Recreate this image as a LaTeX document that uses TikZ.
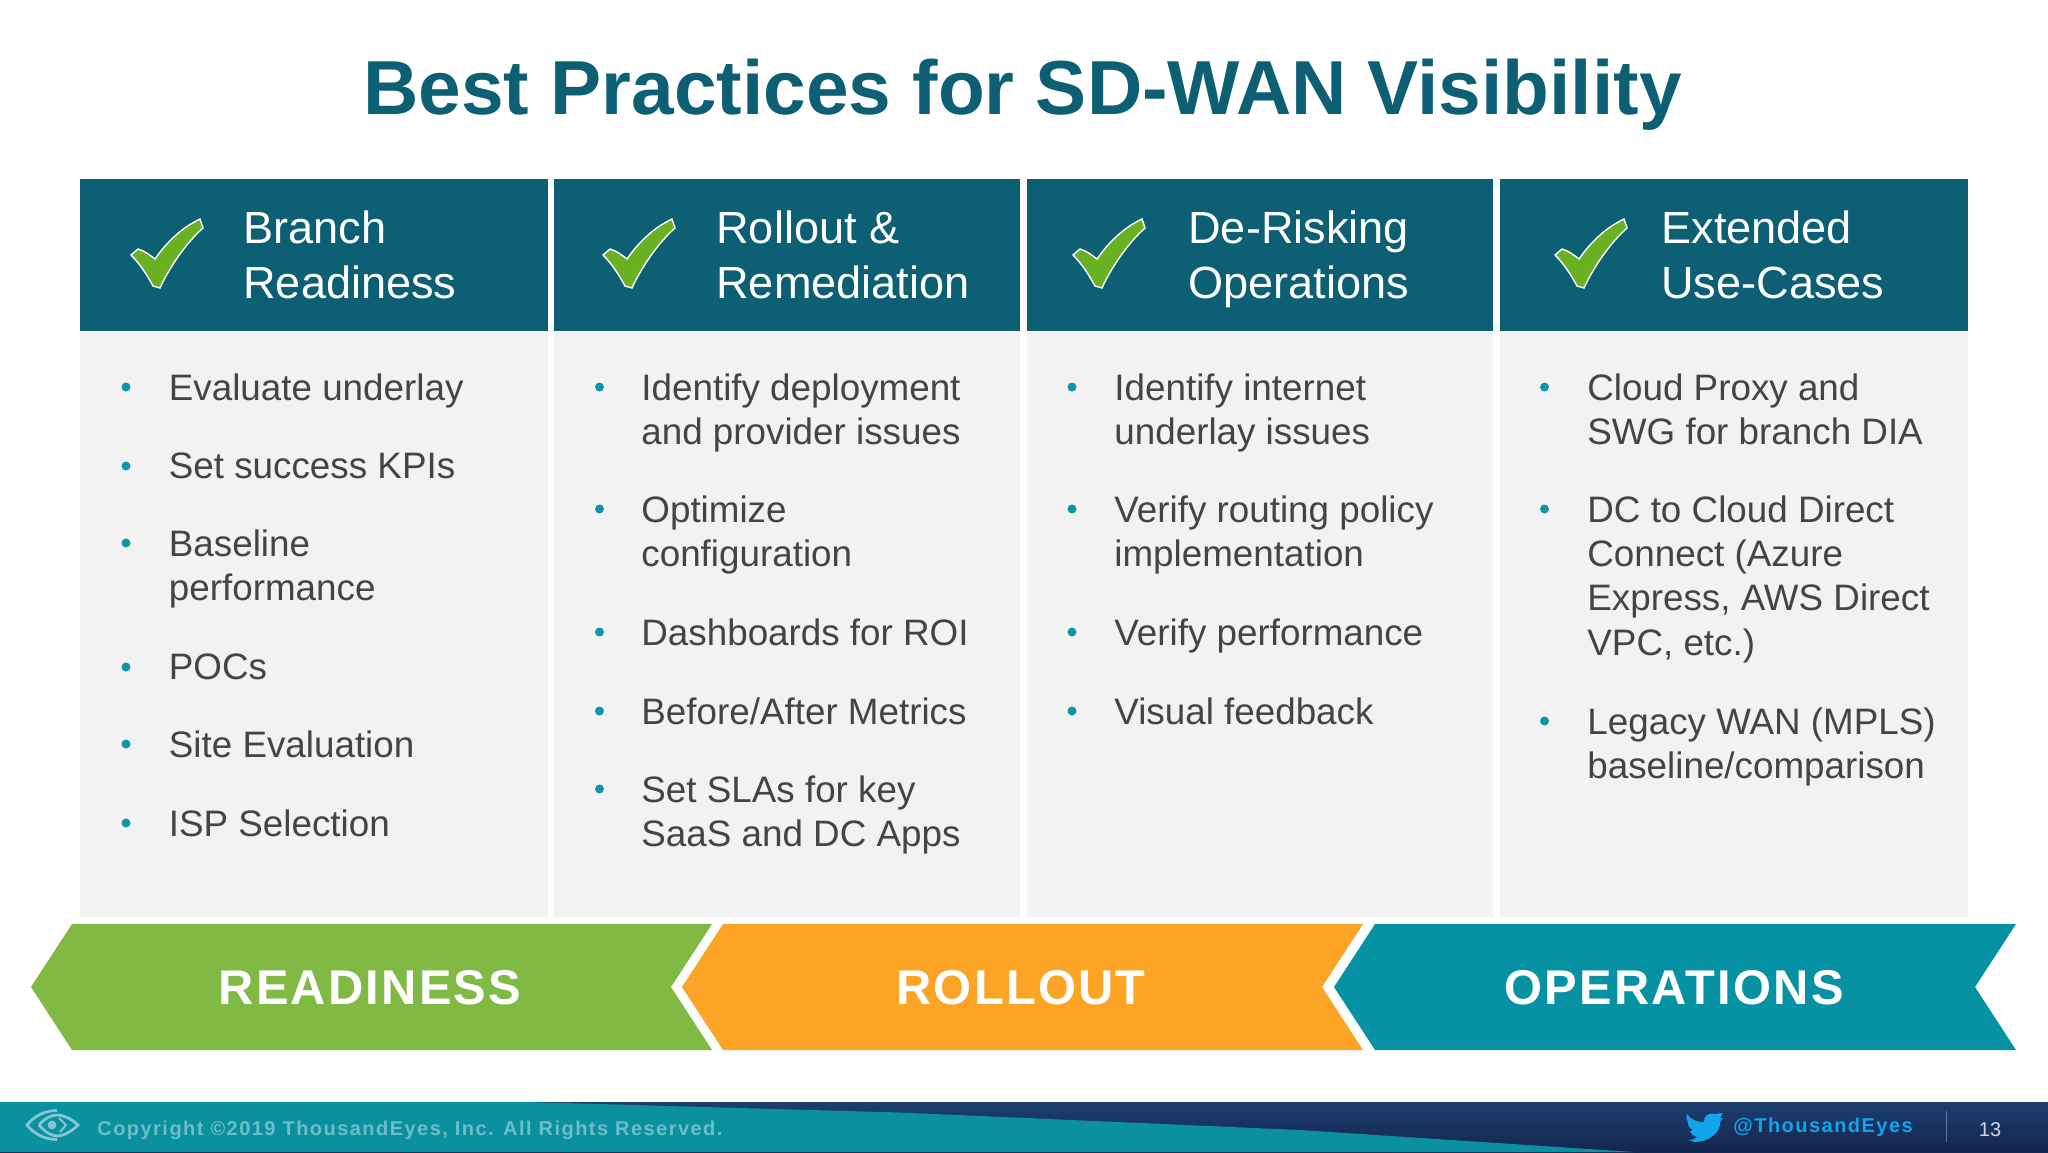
\documentclass[tikz,border=0pt]{standalone}
\usepackage{fontspec}
\setmainfont{Liberation Sans}
\newfontfamily\bandfont[LetterSpace=4.6]{Liberation Sans}
\newfontfamily\footfont[LetterSpace=7.3]{Liberation Sans}
\usetikzlibrary{positioning}
\definecolor{headteal}{HTML}{0D5F73}
\definecolor{panelgray}{HTML}{F2F2F3}
\definecolor{itemgray}{HTML}{424546}
\definecolor{dotteal}{HTML}{0E96A8}
\definecolor{bandgreen}{HTML}{80BA44}
\definecolor{bandorange}{HTML}{FBA426}
\definecolor{bandteal}{HTML}{0792A3}
\definecolor{checkgreen}{HTML}{6AB023}
\definecolor{footteal}{HTML}{0A909F}
\definecolor{footnavy}{HTML}{1B3E70}
\definecolor{footdark}{HTML}{14264D}
\definecolor{footcopy}{HTML}{6DBDCA}
\definecolor{birdblue}{HTML}{12A5EA}
\tikzset{
my title/.style={font=\fontsize{38.3}{44}\selectfont\bfseries,text=headteal,inner sep=0pt},
my header/.style={fill=headteal,minimum height=76pt,anchor=north west,inner sep=0pt},
my panel/.style={fill=panelgray,minimum height=292.5pt,inner sep=0pt},
my head text/.style={anchor=north west,align=left,inner sep=0pt,text=white,font=\fontsize{22.55}{27.5}\selectfont},
my item/.style={anchor=north west,align=left,inner sep=0pt,text=itemgray,font=\fontsize{18.4}{22.2}\selectfont},
my bullet/.style={circle,fill=dotteal,minimum size=4.5pt,inner sep=0pt},
my band text/.style={text=white,inner sep=0pt,font=\fontsize{24.4}{28}\bandfont\bfseries},
my foot text/.style={anchor=west,inner sep=0pt,font=\fontsize{10}{12}\footfont\bfseries},
check/.pic={
  \draw[white,line width=0.7pt,fill=checkgreen]
    (0,37) -- (7,31) .. controls (14,33) and (20,38) .. (24,41)
    .. controls (35,25) and (50,10) .. (69,1) -- (72,10)
    .. controls (55,25) and (38,50) .. (29,70) -- (22,68)
    .. controls (15,55) and (8,45) .. cycle;
}
}
\begin{document}
\begin{tikzpicture}[x=0.5pt,y=-0.5pt]
\useasboundingbox (0,0) rectangle (2048,1152);
\fill[white] (0,0) rectangle (2048,1152);

\node[my title] (title) at (1022.5,94.5) {Best Practices for SD-WAN Visibility};

% column heads and panels
\node[my header,minimum width=234pt] (head1) at (80,179) {};
\node[my header,minimum width=233pt] (head2) at (554,179) {};
\node[my header,minimum width=233pt] (head3) at (1027,179) {};
\node[my header,minimum width=234pt] (head4) at (1500,179) {};
\node[my panel,minimum width=234pt,below=0pt of head1] (panel1) {};
\node[my panel,minimum width=233pt,below=0pt of head2] (panel2) {};
\node[my panel,minimum width=233pt,below=0pt of head3] (panel3) {};
\node[my panel,minimum width=234pt,below=0pt of head4] (panel4) {};

\pic at (131,218) {check};
\pic at (603,218) {check};
\pic at (1073,218) {check};
\pic at (1555,218) {check};

\node[my head text] (htext1) at (243,210) {Branch\\Readiness};
\node[my head text] (htext2) at (716,210) {Rollout \&\\Remediation};
\node[my head text] (htext3) at (1188,210) {De-Risking\\Operations};
\node[my head text] (htext4) at (1661,210) {Extended\\Use-Cases};

% bullet lists
\foreach \n/\y/\txt in {1/373/{Evaluate underlay},2/452/{Set success KPIs},
    3/529/{Baseline\\performance},4/653/{POCs},5/730/{Site Evaluation},6/809/{ISP Selection}}{
  \node[my item] (a\n) at (168.5,\y) {\txt};
  \node[my bullet] (adot\n) at (126,\y+14) {};
}
\foreach \n/\y/\txt in {1/373/{Identify deployment\\and provider issues},2/495/{Optimize\\configuration},
    3/618/{Dashboards for ROI},4/697/{Before/After Metrics},5/775/{Set SLAs for key\\SaaS and DC Apps}}{
  \node[my item] (b\n) at (641,\y) {\txt};
  \node[my bullet] (bdot\n) at (599.5,\y+14) {};
}
\foreach \n/\y/\txt in {1/373/{Identify internet\\underlay issues},2/495/{Verify routing policy\\implementation},
    3/618/{Verify performance},4/697/{Visual feedback}}{
  \node[my item] (c\n) at (1114,\y) {\txt};
  \node[my bullet] (cdot\n) at (1072,\y+14) {};
}
\foreach \n/\y/\txt in {1/373/{Cloud Proxy and\\SWG for branch DIA},2/495/{DC to Cloud Direct\\Connect (Azure\\Express, AWS Direct\\VPC, etc.)},
    3/707/{Legacy WAN (MPLS)\\baseline/comparison}}{
  \node[my item] (d\n) at (1587,\y) {\txt};
  \node[my bullet] (ddot\n) at (1544.5,\y+14) {};
}

% bands
\fill[bandgreen] (31,987) -- (72,924) -- (712,924) -- (671,987) -- (712,1050) -- (72,1050) -- cycle;
\fill[bandorange] (682,987) -- (723,924) -- (1363,924) -- (1322,987) -- (1363,1050) -- (723,1050) -- cycle;
\fill[bandteal] (1334,987) -- (1375,924) -- (2016,924) -- (1975,987) -- (2016,1050) -- (1375,1050) -- cycle;
\node[my band text] (readiness) at (370,988) {READINESS};
\node[my band text] (rollout) at (1021,988) {ROLLOUT};
\node[my band text] (operations) at (1674,988) {OPERATIONS};

% footer
\shade[top color=footnavy,bottom color=footdark] (0,1102) rectangle (2048,1152);
\fill[footteal] (0,1102) -- (527,1102) -- (900,1112.5) -- (1300,1130) -- (1634,1152) -- (0,1152) -- cycle;
\begin{scope}[footcopy!85!white,line width=1.4pt]
\draw (39,1125) .. controls (46,1117) and (52,1115) .. (58,1115) .. controls (66,1116) and (73,1120) .. (78,1125)
  .. controls (73,1130) and (66,1135) .. (58,1136) .. controls (52,1136) and (46,1133) .. (39,1125);
\draw (57,1110.5) .. controls (46,1110.5) and (35,1115) .. (27,1125) .. controls (35,1135) and (46,1139.5) .. (57,1139.5);
\draw[line width=1pt] (59,1118) -- (66,1125) -- (60,1132);
\fill (52,1125) circle (2.2pt);
\end{scope}
\node[my foot text,text=footcopy] (copy) at (97,1130.5) {Copyright ©2019 ThousandEyes, Inc. All Rights Reserved.};
\fill[birdblue] (1687,1114) .. controls (1691,1120) and (1697,1122) .. (1704,1122)
  .. controls (1703,1116) and (1709,1112) .. (1715,1114) -- (1723,1113) -- (1720,1118) -- (1723,1118)
  -- (1720,1122) .. controls (1721,1132) and (1709,1142) .. (1695,1142) -- (1688,1140)
  .. controls (1692,1140) and (1695,1139) .. (1697,1137) .. controls (1693,1136) and (1691,1134) .. (1690,1131)
  -- (1693,1130) .. controls (1689,1128) and (1687,1124) .. (1688,1122) .. controls (1686,1120) and (1686,1117) .. cycle;
\node[my foot text,text=birdblue] (handle) at (1733,1127) {@ThousandEyes};
\draw[footnavy!70!white,line width=0.5pt] (1946,1111) -- (1946,1142);
\node[inner sep=0pt,text=white!80!footnavy,font=\fontsize{10}{12}\selectfont] (page) at (1990,1130) {13};
\end{tikzpicture}
\end{document}
